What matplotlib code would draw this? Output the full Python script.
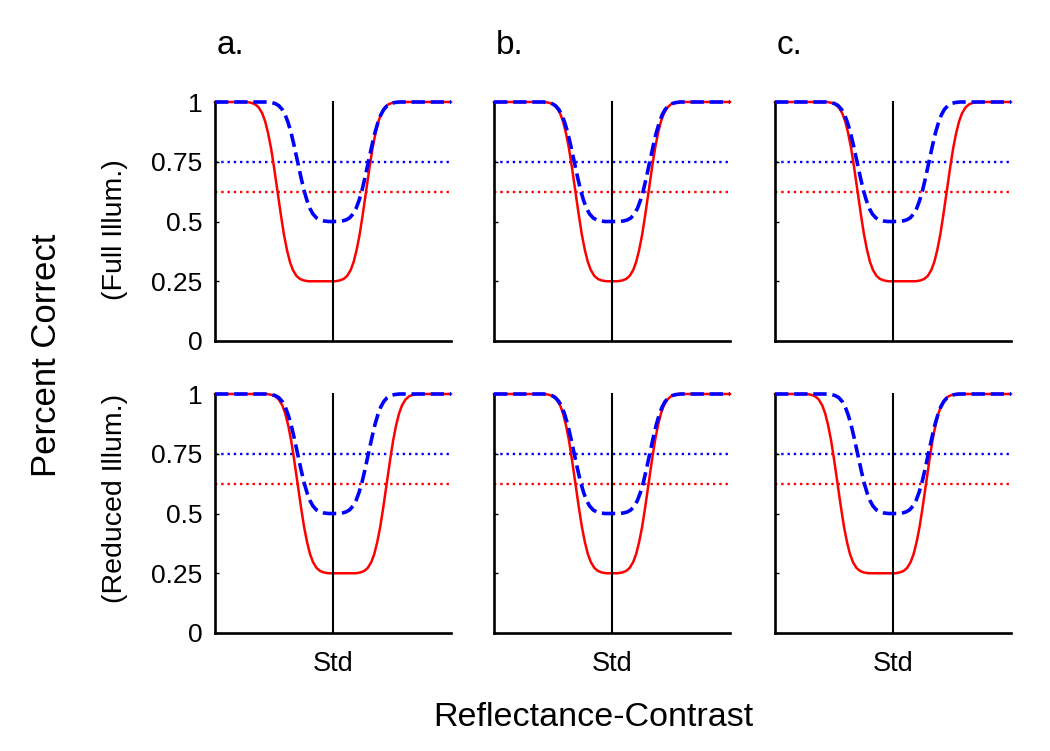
import matplotlib
matplotlib.use("Agg")
import matplotlib.pyplot as plt

plt.rcParams['font.family'] = ['Liberation Sans', 'DejaVu Sans']

# ---------------- data ----------------
panel_labels = ['a.', 'b.', 'c.']
row_labels = ['(Full Illum.)', '(Reduced Illum.)']
y_ticks = [0, 0.25, 0.5, 0.75, 1]
y_tick_labels = ['0', '0.25', '0.5', '0.75', '1']
x_tick_label = 'Std'
x_label = 'Reflectance-Contrast'
y_label = 'Percent Correct'

std_x = 0.0
red_floor = 0.25
blue_floor = 0.5
red_threshold = 0.625
blue_threshold = 0.75

# x of the mid-point of each falling / rising edge (Std = 0, axis -1..1)
red_left = [[-0.47, -0.31, -0.30], [-0.30, -0.31, -0.47]]
red_right = [[0.28, 0.31, 0.455], [0.455, 0.31, 0.28]]
blue_left = [[-0.30, -0.32, -0.305], [-0.30, -0.32, -0.30]]
blue_right = [[0.30, 0.32, 0.305], [0.30, 0.32, 0.30]]

# shape of one edge: offset from its mid-point and share of the drop done
edge_offset = [-0.26, -0.22, -0.19, -0.16, -0.13, -0.105, -0.08, -0.055,
               -0.03, 0.0, 0.03, 0.055, 0.08, 0.105, 0.13, 0.16, 0.19,
               0.22, 0.26]
edge_drop = [0.0, 0.005, 0.013, 0.03, 0.063, 0.108, 0.174, 0.258, 0.363,
             0.5, 0.637, 0.742, 0.826, 0.892, 0.937, 0.97, 0.987, 0.995,
             1.0]


def trough(left, right, floor):
    xs = [-1.0]
    ys = [1.0]
    for o, f in zip(edge_offset, edge_drop):
        xs.append(left + o)
        ys.append(1 - (1 - floor) * f)
    for o, f in zip(edge_offset, edge_drop[::-1]):
        xs.append(right + o)
        ys.append(1 - (1 - floor) * f)
    xs.append(1.0)
    ys.append(1.0)
    return xs, ys


W, H = 1050, 751
fig = plt.figure(figsize=(W / 100, H / 100), dpi=100)

col_centers = [333, 612, 893]
half_w = 118
row_top = [102, 394]
row_h = 239

for r in range(2):
    for c in range(3):
        left_px = col_centers[c] - half_w
        ax = fig.add_axes([left_px / W, (H - row_top[r] - row_h) / H,
                           2 * half_w / W, row_h / H])
        ax.set_xlim(-1, 1)
        ax.set_ylim(0, 1)
        for s in ['top', 'right']:
            ax.spines[s].set_visible(False)
        for s in ['left', 'bottom']:
            ax.spines[s].set_linewidth(1.9)
            ax.spines[s].set_color('black')

        ax.axhline(blue_threshold, color='blue', ls=':', lw=1.7, zorder=1)
        ax.axhline(red_threshold, color='red', ls=':', lw=1.7, zorder=1)

        xr, yr = trough(red_left[r][c], red_right[r][c], red_floor)
        ax.plot(xr, yr, color='red', lw=1.8, zorder=2, clip_on=False,
                solid_joinstyle='round')
        ax.plot([std_x, std_x], [0, 1], color='black', lw=1.5, zorder=3,
                clip_on=False)
        xb, yb = trough(blue_left[r][c], blue_right[r][c], blue_floor)
        ax.plot(xb, yb, color='blue', lw=2.6, ls='--', zorder=4,
                clip_on=False)

        ax.set_yticks(y_ticks)
        ax.tick_params(axis='y', direction='in', length=3, width=1,
                       pad=9, labelsize=19)
        if c == 0:
            ax.set_yticklabels(y_tick_labels)
        else:
            ax.set_yticklabels([])
        ax.set_xticks([std_x])
        ax.tick_params(axis='x', length=0, pad=13, labelsize=19.5)
        if r == 1:
            ax.set_xticklabels([x_tick_label])
        else:
            ax.set_xticklabels([])

for c in range(3):
    fig.text((col_centers[c] - half_w + 2) / W, 1 - 45 / H, panel_labels[c],
             fontsize=24, ha='left', va='center')

fig.text(115 / W, 1 - 230 / H, row_labels[0], rotation=90, fontsize=20.5,
         ha='center', va='center')
fig.text(115 / W, 1 - 498 / H, row_labels[1], rotation=90, fontsize=20.5,
         ha='center', va='center')
fig.text(47 / W, 1 - 355 / H, y_label, rotation=90, fontsize=25,
         ha='center', va='center')
fig.text(593 / W, 1 - 718 / H, x_label, fontsize=24.5, ha='center',
         va='center')

fig.savefig('out.png', dpi=100)
